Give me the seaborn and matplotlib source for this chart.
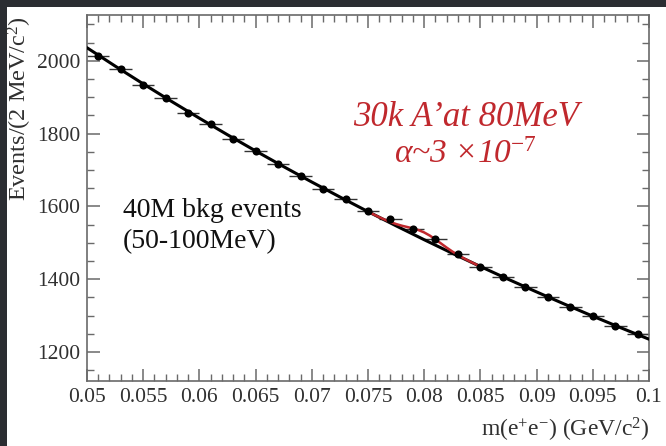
import numpy as np
import pandas as pd
import matplotlib
matplotlib.use('Agg')
import matplotlib.pyplot as plt
from matplotlib.patches import Rectangle
from matplotlib.ticker import MultipleLocator, FuncFormatter
import seaborn as sns

# data points: 2 MeV bins between 50 and 100 MeV
mass = [0.051, 0.053, 0.055, 0.057, 0.059, 0.061, 0.063, 0.065, 0.067, 0.069,
        0.071, 0.073, 0.075, 0.077, 0.079, 0.081, 0.083, 0.085, 0.087, 0.089,
        0.091, 0.093, 0.095, 0.097, 0.099]
events = [2014, 1977, 1934, 1899, 1858, 1826, 1786, 1753, 1716, 1684,
          1648, 1619, 1586, 1565, 1538, 1510, 1468, 1433, 1407, 1377,
          1352, 1323, 1299, 1271, 1248]

# background fit (black curve)
fit_mass = [0.05, 0.0525, 0.055, 0.0575, 0.06, 0.0625, 0.065, 0.0675, 0.07, 0.0725,
            0.075, 0.0775, 0.08, 0.0825, 0.085, 0.0875, 0.09, 0.0925, 0.095, 0.0975, 0.1]
fit_bkg = [2036.0, 1985.7, 1936.7, 1888.9, 1842.3, 1796.8, 1752.4, 1709.1, 1666.9, 1625.8,
           1585.6, 1546.5, 1508.3, 1471.1, 1434.7, 1399.3, 1364.8, 1331.1, 1298.2, 1266.2, 1234.9]

# signal + background (red curve) around 80 MeV
sig_mass = [0.075, 0.0755, 0.076, 0.0765, 0.077, 0.0775, 0.078, 0.0785, 0.079, 0.0795,
            0.08, 0.0805, 0.081, 0.0815, 0.082, 0.0825, 0.083, 0.0835, 0.084, 0.0845, 0.085]
sig_total = [1585.7, 1577.8, 1570.3, 1563.3, 1556.9, 1551.5, 1546.9, 1543.2, 1539.4, 1534.7,
             1528.3, 1519.7, 1509.3, 1497.9, 1486.6, 1476.0, 1466.4, 1457.7, 1449.6, 1442.0, 1434.8]

sns.set_theme(style="ticks")
plt.rcParams['font.family'] = ['Liberation Serif', 'DejaVu Serif']
plt.rcParams['mathtext.fontset'] = 'custom'
plt.rcParams['mathtext.rm'] = 'Liberation Serif'
plt.rcParams['mathtext.it'] = 'Liberation Serif:italic'

red = '#c0282d'
axis_col = '#6a6a6a'
text_col = '#303030'

fig = plt.figure(figsize=(6.66, 4.46), dpi=100)
fig.patch.set_facecolor('#2b2d32')
fig.add_artist(Rectangle((7 / 666, 0), 1, 1 - 7 / 446, transform=fig.transFigure,
                         facecolor='white', edgecolor='none', zorder=0))
ax = fig.add_axes([87 / 666, 1 - 381 / 446, 562 / 666, 366 / 446])
ax.set_facecolor('white')

df = pd.DataFrame({'mass': mass, 'events': events})
fit = pd.DataFrame({'mass': fit_mass, 'events': fit_bkg})
sig = pd.DataFrame({'mass': sig_mass, 'events': sig_total})

ax.errorbar(df['mass'], df['events'], xerr=0.001, fmt='none', ecolor='#333333',
            elinewidth=1.0, zorder=2)
sns.lineplot(data=fit, x='mass', y='events', color='black', linewidth=2.2, ax=ax, zorder=3)
sns.lineplot(data=sig, x='mass', y='events', color=red, linewidth=1.8, ax=ax, zorder=4)
sns.scatterplot(data=df, x='mass', y='events', color='black', s=34, linewidth=0,
                ax=ax, zorder=5)

ax.set_xlim(0.05, 0.1)
ax.set_ylim(1120, 2126)
ax.set_xlabel('')
ax.set_ylabel('')

ax.xaxis.set_major_locator(MultipleLocator(0.005))
ax.xaxis.set_minor_locator(MultipleLocator(0.001))
ax.yaxis.set_major_locator(MultipleLocator(200))
ax.yaxis.set_minor_locator(MultipleLocator(50))
ax.xaxis.set_major_formatter(FuncFormatter(lambda v, p: f'{v:g}'))

for sp in ax.spines.values():
    sp.set_visible(True)
    sp.set_color(axis_col)
    sp.set_linewidth(1.2)
ax.tick_params(which='both', direction='in', top=True, right=True, color=axis_col)
ax.tick_params(which='major', length=9, width=1.1, labelsize=15.5, labelcolor=text_col, pad=5)
ax.tick_params(which='minor', length=5, width=1.0)

ax.text(0.0532, 1590, '40M bkg events', fontsize=20, color='#111111', va='center')
ax.text(0.0532, 1502, '(50-100MeV)', fontsize=20, color='#111111', va='center')

ax.text(0.0837, 1843, "30k A\u2019at 80MeV", fontsize=25, color=red, style='italic',
        ha='center', va='center')
ax.text(0.0837, 1741, '\u03b1~3 \u00d710$^{\\mathit{-7}}$', fontsize=24, color=red,
        style='italic', ha='center', va='center')

fig.text(20 / 666, 1 - 16 / 446, r'Events/(2 MeV/c$^{2}$)', rotation=90, fontsize=17.5,
         color=text_col, ha='center', va='top')
fig.text(650 / 666, 1 - 430 / 446, r'm(e$^{+}$e$^{-}$) (GeV/c$^{2}$)', fontsize=17,
         color=text_col, ha='right', va='center')

fig.savefig('out.png', dpi=100, facecolor=fig.get_facecolor())
plt.close(fig)
